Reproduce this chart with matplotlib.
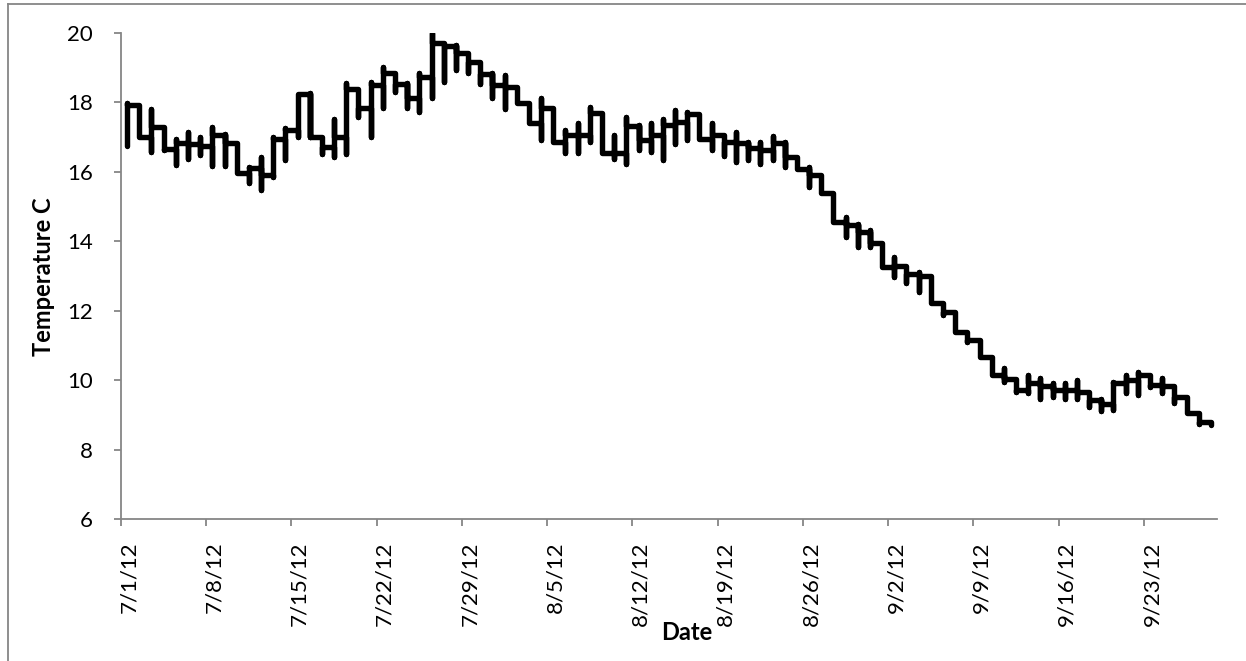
import numpy as np
import matplotlib
matplotlib.use("Agg")
import matplotlib.pyplot as plt
import matplotlib.transforms as mtransforms
from matplotlib.lines import Line2D

plt.rcParams['font.family'] = ['Lato', 'DejaVu Sans']

# daily readings, 7/1/12 .. 9/28/12 (one entry per day)
# every reading of a day sits on the same date, so each day is a vertical run
day_lo = [16.74, 17.00, 16.58, 16.63, 16.20, 16.36, 16.48, 16.18, 16.18, 15.96,
          15.67, 15.48, 15.86, 16.34, 17.01, 16.99, 16.51, 16.42, 16.51, 17.59,
          17.01, 17.83, 18.31, 17.83, 17.73, 18.12, 18.60, 18.93, 18.84, 18.53,
          18.12, 17.80, 18.02, 17.44, 16.92, 16.87, 16.53, 16.53, 16.87, 16.53,
          16.36, 16.24, 16.63, 16.58, 16.34, 16.80, 16.92, 16.96, 16.63, 16.45,
          16.29, 16.34, 16.24, 16.34, 16.13, 16.10, 15.57, 15.38, 14.56, 14.13,
          13.84, 13.84, 13.26, 12.98, 12.80, 12.54, 12.21, 11.87, 11.39, 11.10,
          10.67, 10.14, 9.95, 9.66, 9.62, 9.45, 9.52, 9.45, 9.45, 9.22,
          9.12, 9.13, 9.62, 9.57, 9.80, 9.62, 9.33, 9.04, 8.75, 8.72]
day_hi = [17.97, 17.92, 17.80, 17.28, 16.96, 17.16, 17.00, 17.28, 17.10, 16.82,
          16.15, 16.44, 17.01, 17.25, 18.24, 18.28, 16.99, 17.51, 18.55, 18.40,
          18.60, 19.01, 18.84, 18.55, 18.84, 20.00, 19.70, 19.65, 19.41, 19.17,
          18.84, 18.79, 18.45, 17.97, 18.12, 17.83, 17.20, 17.40, 17.86, 17.70,
          17.06, 17.57, 17.35, 17.40, 17.51, 17.78, 17.73, 17.68, 17.40, 17.06,
          17.16, 16.87, 16.87, 17.03, 16.87, 16.44, 16.13, 15.91, 15.38, 14.71,
          14.50, 14.32, 13.96, 13.55, 13.30, 13.12, 13.00, 12.23, 11.94, 11.34,
          11.15, 10.65, 10.36, 10.02, 10.14, 10.05, 9.91, 9.91, 9.99, 9.62,
          9.47, 9.95, 10.14, 10.24, 10.14, 10.05, 9.82, 9.52, 9.06, 8.80]
# last reading of each day (the flat run over to the next day starts here)
day_end = [17.92, 17.00, 17.28, 16.65, 16.82, 16.80, 16.74, 17.06, 16.84, 15.96,
           16.10, 15.90, 16.96, 17.20, 18.24, 16.99, 16.72, 17.00, 18.40, 17.83,
           18.50, 18.86, 18.53, 18.12, 18.72, 19.72, 19.63, 19.41, 19.17, 18.82,
           18.50, 18.45, 17.97, 17.40, 17.83, 16.87, 17.06, 17.06, 17.70, 16.53,
           16.53, 17.32, 16.92, 17.06, 17.35, 17.45, 17.68, 16.96, 17.06, 16.87,
           16.82, 16.68, 16.63, 16.82, 16.44, 16.07, 15.91, 15.38, 14.56, 14.47,
           14.27, 13.96, 13.26, 13.30, 13.05, 13.00, 12.21, 11.97, 11.39, 11.15,
           10.67, 10.14, 10.02, 9.72, 9.91, 9.84, 9.72, 9.72, 9.65, 9.43,
           9.32, 9.91, 10.00, 10.14, 9.86, 9.82, 9.52, 9.06, 8.80, 8.72]

tick_days = [0, 7, 14, 21, 28, 35, 42, 49, 56, 63, 70, 77, 84]
tick_labels = ['7/1/12', '7/8/12', '7/15/12', '7/22/12', '7/29/12', '8/5/12',
               '8/12/12', '8/19/12', '8/26/12', '9/2/12', '9/9/12', '9/16/12',
               '9/23/12']

# build the path: enter, low, high, leave, all on the day's position
xs, ys = [], []
prev = day_lo[0]
for d in range(len(day_lo)):
    x = d + 0.5
    xs += [x, x, x, x]
    ys += [prev, day_lo[d], day_hi[d], day_end[d]]
    prev = day_end[d]

W, H = 1246, 661
fig = plt.figure(figsize=(W / 100, H / 100), dpi=100)
ax = fig.add_axes([121 / W, 1 - 519 / H, (1217 - 121) / W, (519 - 33) / H])

ax.plot(xs, ys, color='black', linewidth=3.9,
        solid_capstyle='round', solid_joinstyle='round')

ax.set_xlim(0, len(day_lo))
ax.set_ylim(6, 20)
ax.set_yticks(np.arange(6, 21, 2))

grey = '#868686'
for s in ['top', 'right']:
    ax.spines[s].set_visible(False)
for s in ['left', 'bottom']:
    ax.spines[s].set_color(grey)
    ax.spines[s].set_linewidth(1.3)

ax.set_xticks(tick_days)
ax.set_xticklabels(tick_labels, rotation=90, va='top', ha='center')
ax.tick_params(axis='x', direction='out', length=5, width=1.3, color=grey,
               pad=11, labelsize=16, labelcolor='black')
ax.tick_params(axis='y', direction='out', length=5, width=1.3, color=grey,
               pad=15, labelsize=16, labelcolor='black')

# labels sit a little right of their tick, like Excel
shift = mtransforms.ScaledTranslation(8 / 100, 0, fig.dpi_scale_trans)
for lab in ax.get_xticklabels():
    lab.set_transform(lab.get_transform() + shift)

fig.text(44 / W, 1 - 277 / H, 'Temperature C', rotation=90, ha='center',
         va='center', fontsize=17, fontweight='bold')
fig.text(687 / W, 1 - 633 / H, 'Date', ha='center', va='center',
         fontsize=17, fontweight='bold')

# chart frame (only left and top edges show in the crop)
fig.add_artist(Line2D([7.5 / W, 7.5 / W], [0, 1 - 4 / H], color=grey,
                      linewidth=1.3, transform=fig.transFigure))
fig.add_artist(Line2D([7.5 / W, 1], [1 - 4 / H, 1 - 4 / H], color=grey,
                      linewidth=1.3, transform=fig.transFigure))

fig.savefig('out.png', dpi=100)
